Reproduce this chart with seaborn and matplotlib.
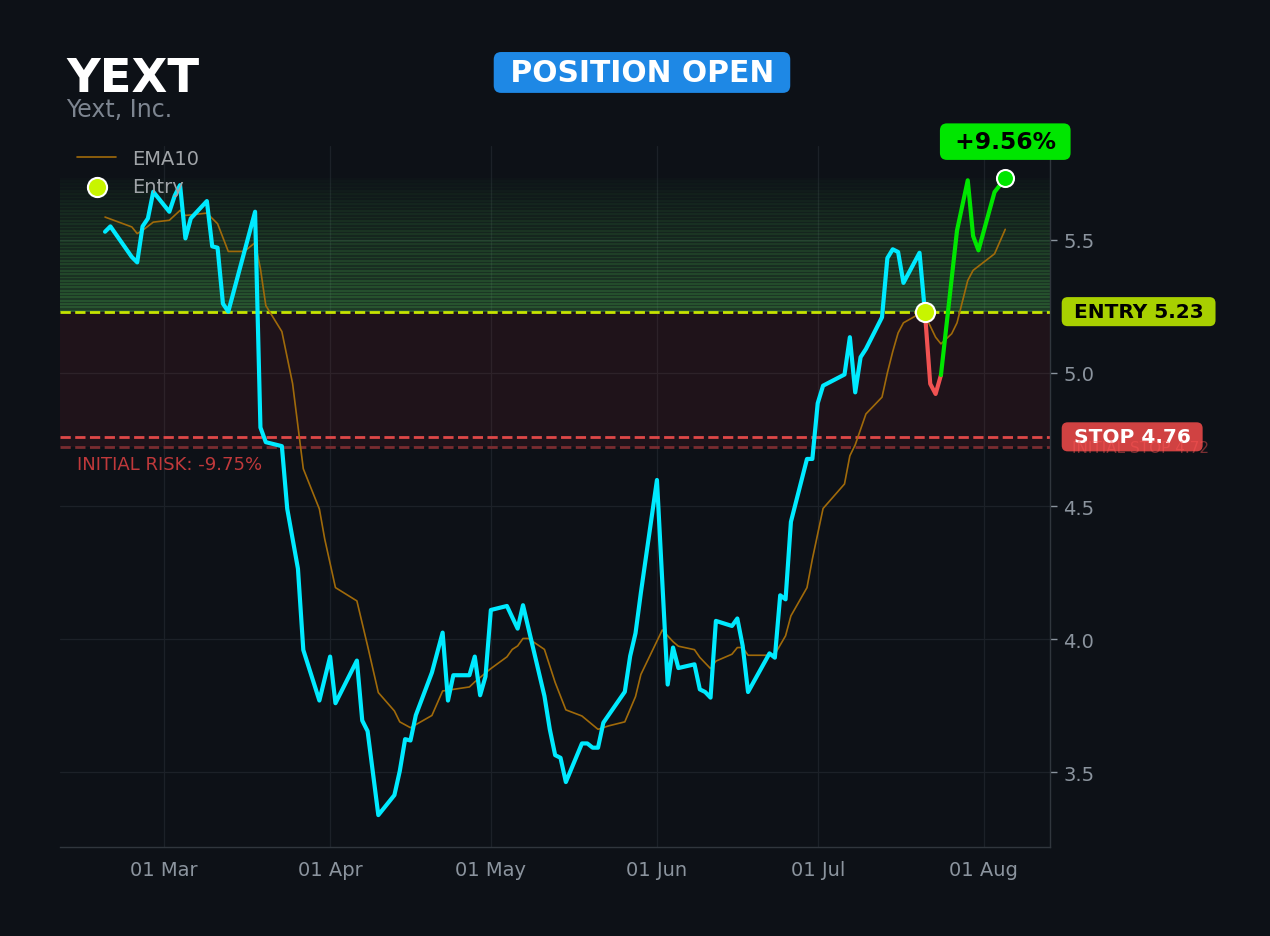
import numpy as np
import pandas as pd
import matplotlib
matplotlib.use("Agg")
import matplotlib.pyplot as plt
import matplotlib.dates as mdates
import matplotlib.ticker as mticker
import seaborn as sns

# --- Dados ---
TICKER = "YEXT"
COMPANY = "Yext, Inc."
ENTRY_PRICE = 5.23
STOP_PRICE = 4.76
INITIAL_STOP = 4.72
GAIN_PCT = 9.56
RISK_PCT = -9.75

price_dates = [
    "2024-02-19", "2024-02-20", "2024-02-24", "2024-02-25", "2024-02-26", "2024-02-27",
    "2024-02-28", "2024-03-02", "2024-03-03", "2024-03-04", "2024-03-05", "2024-03-06",
    "2024-03-09", "2024-03-10", "2024-03-11", "2024-03-12", "2024-03-13", "2024-03-18",
    "2024-03-19", "2024-03-20", "2024-03-23", "2024-03-24", "2024-03-26", "2024-03-27",
    "2024-03-30", "2024-04-01", "2024-04-02", "2024-04-06", "2024-04-07", "2024-04-08",
    "2024-04-10", "2024-04-13", "2024-04-14", "2024-04-15", "2024-04-16", "2024-04-17",
    "2024-04-20", "2024-04-22", "2024-04-23", "2024-04-24", "2024-04-27", "2024-04-28",
    "2024-04-29", "2024-04-30", "2024-05-01", "2024-05-04", "2024-05-06", "2024-05-07",
    "2024-05-11", "2024-05-12", "2024-05-13", "2024-05-14", "2024-05-15", "2024-05-18",
    "2024-05-19", "2024-05-20", "2024-05-21", "2024-05-22", "2024-05-26", "2024-05-27",
    "2024-05-28", "2024-05-29", "2024-06-01", "2024-06-03", "2024-06-04", "2024-06-05",
    "2024-06-08", "2024-06-09", "2024-06-10", "2024-06-11", "2024-06-12", "2024-06-15",
    "2024-06-16", "2024-06-17", "2024-06-18", "2024-06-22", "2024-06-23", "2024-06-24",
    "2024-06-25", "2024-06-26", "2024-06-29", "2024-06-30", "2024-07-01", "2024-07-02",
    "2024-07-06", "2024-07-07", "2024-07-08", "2024-07-09", "2024-07-10", "2024-07-13",
    "2024-07-14", "2024-07-15", "2024-07-16", "2024-07-17", "2024-07-20", "2024-07-21",
]
price_values = [
    5.53, 5.55, 5.435, 5.415, 5.55, 5.58,
    5.68, 5.605, 5.665, 5.705, 5.505, 5.58,
    5.645, 5.475, 5.47, 5.26, 5.23, 5.605,
    4.795, 4.74, 4.725, 4.49, 4.265, 3.96,
    3.77, 3.935, 3.76, 3.92, 3.695, 3.655,
    3.34, 3.415, 3.505, 3.625, 3.62, 3.715,
    3.875, 4.025, 3.77, 3.865, 3.865, 3.935,
    3.79, 3.86, 4.11, 4.125, 4.04, 4.128,
    3.787, 3.662, 3.565, 3.555, 3.464, 3.609,
    3.609, 3.593, 3.593, 3.687, 3.803, 3.937,
    4.023, 4.175, 4.598, 3.83, 3.969, 3.892,
    3.906, 3.812, 3.802, 3.781, 4.069, 4.05,
    4.078, 3.975, 3.802, 3.947, 3.931, 4.165,
    4.15, 4.441, 4.677, 4.677, 4.886, 4.952,
    4.994, 5.134, 4.927, 5.059, 5.09, 5.209,
    5.431, 5.464, 5.454, 5.338, 5.451, 5.23,
]

# Após a entrada: trecho abaixo (vermelho) e acima (verde)
loss_dates = ["2024-07-21", "2024-07-22", "2024-07-23", "2024-07-24"]
loss_values = [5.23, 4.959, 4.921, 4.992]
gain_dates = ["2024-07-24", "2024-07-27", "2024-07-29", "2024-07-30", "2024-07-31",
              "2024-08-03", "2024-08-05"]
gain_values = [4.992, 5.535, 5.723, 5.514, 5.46, 5.679, 5.73]

ema_dates = [
    "2024-02-19", "2024-02-24", "2024-02-25", "2024-02-26", "2024-02-28", "2024-03-02",
    "2024-03-04", "2024-03-05", "2024-03-09", "2024-03-11", "2024-03-13", "2024-03-16",
    "2024-03-18", "2024-03-19", "2024-03-20", "2024-03-23", "2024-03-25", "2024-03-27",
    "2024-03-30", "2024-03-31", "2024-04-02", "2024-04-06", "2024-04-08", "2024-04-10",
    "2024-04-13", "2024-04-14", "2024-04-16", "2024-04-20", "2024-04-22", "2024-04-27",
    "2024-04-28", "2024-05-01", "2024-05-04", "2024-05-05", "2024-05-06", "2024-05-07",
    "2024-05-08", "2024-05-11", "2024-05-13", "2024-05-15", "2024-05-18", "2024-05-21",
    "2024-05-23", "2024-05-26", "2024-05-28", "2024-05-29", "2024-06-02", "2024-06-04",
    "2024-06-05", "2024-06-08", "2024-06-09", "2024-06-11", "2024-06-12", "2024-06-15",
    "2024-06-16", "2024-06-17", "2024-06-18", "2024-06-22", "2024-06-23", "2024-06-25",
    "2024-06-26", "2024-06-29", "2024-06-30", "2024-07-02", "2024-07-06", "2024-07-07",
    "2024-07-08", "2024-07-10", "2024-07-13", "2024-07-14", "2024-07-15", "2024-07-16",
    "2024-07-17", "2024-07-20", "2024-07-21", "2024-07-23", "2024-07-24", "2024-07-26",
    "2024-07-27", "2024-07-29", "2024-07-30", "2024-08-03", "2024-08-05",
]
ema_values = [
    5.585, 5.548, 5.523, 5.535, 5.566, 5.573,
    5.61, 5.591, 5.60, 5.56, 5.456, 5.456,
    5.489, 5.391, 5.253, 5.155, 4.96, 4.64,
    4.489, 4.376, 4.194, 4.144, 3.975, 3.80,
    3.731, 3.69, 3.668, 3.714, 3.806, 3.821,
    3.84, 3.89, 3.934, 3.962, 3.975, 4.003,
    4.003, 3.962, 3.838, 3.735, 3.712, 3.662,
    3.675, 3.69, 3.785, 3.868, 4.035, 3.991,
    3.974, 3.961, 3.932, 3.89, 3.918, 3.944,
    3.969, 3.969, 3.94, 3.94, 3.944, 4.013,
    4.088, 4.194, 4.301, 4.491, 4.583, 4.689,
    4.73, 4.846, 4.909, 5.00, 5.08, 5.15,
    5.188, 5.222, 5.218, 5.134, 5.109, 5.147,
    5.188, 5.347, 5.385, 5.447, 5.539,
]

# --- Estilo ---
BG = "#0d1117"
GRID = "#1c2128"
TXT = "#8b949e"
CYAN = "#00eaff"
EMA_COLOR = "#a06a0a"

sns.set_theme(style="dark", rc={
    "figure.facecolor": BG,
    "axes.facecolor": BG,
    "savefig.facecolor": BG,
    "axes.edgecolor": "#30363d",
    "grid.color": GRID,
    "text.color": TXT,
    "xtick.color": TXT,
    "ytick.color": TXT,
})
plt.rcParams["font.family"] = ["DejaVu Sans"]

price = pd.DataFrame({"date": pd.to_datetime(price_dates), "close": price_values})
ema = pd.DataFrame({"date": pd.to_datetime(ema_dates), "ema": ema_values})
loss = pd.DataFrame({"date": pd.to_datetime(loss_dates), "close": loss_values})
gain = pd.DataFrame({"date": pd.to_datetime(gain_dates), "close": gain_values})

fig = plt.figure(figsize=(12.7, 9.37), dpi=100)
ax = fig.add_axes([0.0472, 0.0955, 0.7795, 0.7471])

ax.set_ylim(3.222, 5.85)
ax.set_xlim(pd.Timestamp("2024-02-10 14:00"), pd.Timestamp("2024-08-13 08:00"))

# zona de risco (entre stop inicial e entrada)
ax.axhspan(INITIAL_STOP, ENTRY_PRICE, color="#ff3040", alpha=0.08, lw=0, zorder=0.6)

# gradiente verde entre entrada e preço atual (faixas)
top = gain_values[-1]
n_bands = 40
edges = np.linspace(ENTRY_PRICE, top, n_bands + 1)
for i in range(n_bands):
    t = i / n_bands
    a = 0.42 * (1 - t) ** 0.9 + 0.02
    lo, hi = edges[i], edges[i + 1]
    ax.axhspan(lo, hi, color="#4caf50", alpha=a * 0.6, lw=0, zorder=0.6)
    ax.axhspan(lo, lo + (hi - lo) * 0.55, color="#4caf50", alpha=a * 0.55, lw=0, zorder=0.6)

# linhas horizontais
ax.axhline(ENTRY_PRICE, color="#c6e400", ls="--", lw=2, zorder=2)
ax.axhline(STOP_PRICE, color="#e04848", ls="--", lw=2, zorder=2)
ax.axhline(INITIAL_STOP, color="#7a2c30", ls="--", lw=2, zorder=2)

sns.lineplot(data=ema, x="date", y="ema", ax=ax, color=EMA_COLOR, lw=1.2,
             label="EMA10", zorder=3)
sns.lineplot(data=price, x="date", y="close", ax=ax, color=CYAN, lw=3,
             zorder=4, legend=False)
sns.lineplot(data=loss, x="date", y="close", ax=ax, color="#f05252", lw=3,
             zorder=4, legend=False)
sns.lineplot(data=gain, x="date", y="close", ax=ax, color="#00e600", lw=3,
             zorder=4, legend=False)

ax.scatter(pd.to_datetime([loss_dates[0]]), [ENTRY_PRICE], s=190, color="#c8f500",
           edgecolor="white", lw=1.5, zorder=6, label="Entry")
ax.scatter(pd.to_datetime([gain_dates[-1]]), [gain_values[-1]], s=150, color="#00e600",
           edgecolor="white", lw=1.5, zorder=6)

# eixos
ax.grid(True, color=GRID, lw=0.9)
ax.set_axisbelow(True)
ax.set_xlabel("")
ax.set_ylabel("")
ax.yaxis.tick_right()
ax.set_yticks([3.5, 4.0, 4.5, 5.0, 5.5])
ax.yaxis.set_major_formatter(mticker.FormatStrFormatter("%.1f"))
ax.xaxis.set_major_locator(mdates.MonthLocator())
ax.xaxis.set_major_formatter(mdates.DateFormatter("%d %b"))
ax.tick_params(axis="both", labelsize=14, colors=TXT, length=5, width=1, pad=4.5)
for side in ["left", "top"]:
    ax.spines[side].set_visible(False)
for side in ["right", "bottom"]:
    ax.spines[side].set_color("#30363d")
    ax.spines[side].set_linewidth(1)

leg = ax.legend(loc="upper left", bbox_to_anchor=(0, 1.022), frameon=False,
                fontsize=14, scatterpoints=1)
for t in leg.get_texts():
    t.set_color("#a0a4a8")

# rótulos à direita
ytrans = ax.get_yaxis_transform()
ax.text(1.017, ENTRY_PRICE, " ENTRY 5.23 ", transform=ytrans, ha="left", va="center",
        fontsize=14.5, weight="bold", color="black", clip_on=False, zorder=7,
        bbox=dict(boxstyle="round,pad=0.25,rounding_size=0.3", fc="#a8d000", ec="none"))
ax.text(1.017, STOP_PRICE, " STOP 4.76 ", transform=ytrans, ha="left", va="center",
        fontsize=14.5, weight="bold", color="white", clip_on=False, zorder=7,
        bbox=dict(boxstyle="round,pad=0.25,rounding_size=0.3", fc="#d04242", ec="none"))
ax.text(1.022, INITIAL_STOP, "INITIAL STOP 4.72", transform=ytrans, ha="left",
        va="center", fontsize=11, color="#ff5555", alpha=0.45, clip_on=False, zorder=8)

ax.text(0.017, 0.546, f"INITIAL RISK: {RISK_PCT:.2f}%", transform=ax.transAxes,
        ha="left", va="center", fontsize=13, color="#c0393b", zorder=7)

ax.annotate(f" +{GAIN_PCT:.2f}% ", xy=(pd.Timestamp(gain_dates[-1]), gain_values[-1]),
            xytext=(0, 26.5), textcoords="offset points", ha="center", va="center",
            fontsize=16.8, weight="bold", color="black", annotation_clip=False, zorder=9,
            bbox=dict(boxstyle="round,pad=0.29,rounding_size=0.3", fc="#00e600", ec="none"))

# títulos
fig.text(0.052, 0.9152, TICKER, fontsize=33.5, weight="bold", color="white",
         ha="left", va="center")
fig.text(0.052, 0.8826, COMPANY, fontsize=17, color="#7d8590", ha="left", va="center")
fig.text(0.5055, 0.9216, " POSITION OPEN ", fontsize=21.4, weight="bold", color="white",
         ha="center", va="center",
         bbox=dict(boxstyle="round,pad=0.2,rounding_size=0.25", fc="#1e88e5", ec="none"))

fig.savefig("out.png", dpi=100, facecolor=BG)
